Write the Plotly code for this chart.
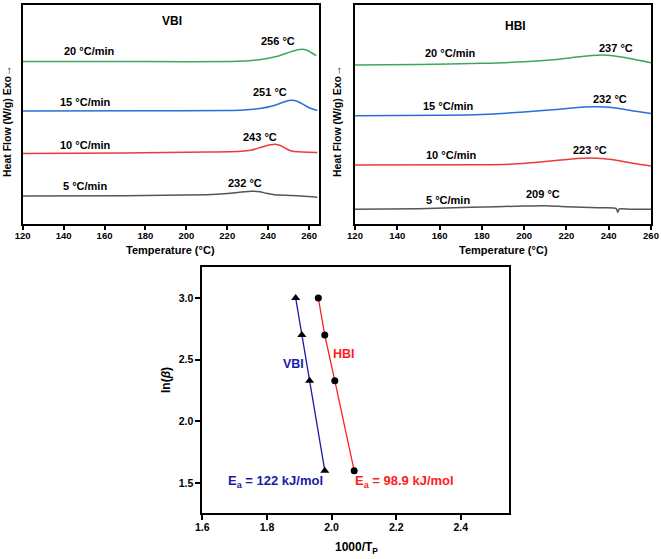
import plotly.graph_objects as go

# ---------------- DSC data: VBI ----------------
vbi_T_20 = [120, 160, 200, 225, 232, 238, 244, 250, 254, 256.5, 259, 261, 263.5]
vbi_hf_20 = [162.8, 162.8, 162.6, 163.0, 163.8, 165.3, 167.8, 171.8, 174.3, 175.0, 174.0, 171.8, 168.8]
vbi_T_15 = [120, 180, 220, 228, 236, 242, 247, 250, 252, 255, 258, 261, 264]
vbi_hf_15 = [113.3, 113.5, 113.8, 114.3, 115.8, 118.3, 121.8, 123.8, 124.0, 122.3, 118.8, 115.8, 113.8]
vbi_T_10 = [120, 170, 210, 225, 232, 237, 241, 243.5, 246, 249, 252, 257, 264]
vbi_hf_10 = [70.8, 71.3, 72.3, 72.8, 74.3, 77.3, 79.5, 80.1, 78.8, 75.3, 73.0, 72.3, 71.8]
vbi_T_5 = [120, 170, 210, 220, 227, 232, 236, 239, 243, 252, 264]
vbi_hf_5 = [28.3, 28.6, 29.6, 30.8, 32.3, 33.0, 32.6, 31.0, 29.6, 28.8, 27.1]

# ---------------- DSC data: HBI ----------------
hbi_T_20 = [120, 150, 180, 200, 215, 225, 232, 237, 242, 250, 260]
hbi_hf_20 = [159.3, 159.8, 161.0, 162.5, 164.8, 167.3, 168.8, 169.3, 168.5, 165.8, 161.6]
hbi_T_15 = [120, 160, 180, 200, 215, 225, 232, 238, 245, 252, 260]
hbi_hf_15 = [108.6, 109.0, 109.8, 112.3, 114.8, 116.8, 117.5, 117.3, 115.8, 113.3, 110.8]
hbi_T_10 = [120, 180, 195, 205, 215, 225, 231, 238, 245, 252, 260]
hbi_hf_10 = [59.3, 59.6, 60.3, 61.8, 63.8, 65.8, 66.3, 65.5, 63.6, 60.8, 58.3]
hbi_T_5 = [120, 150, 175, 200, 210, 220, 235, 243.5, 244.3, 245, 250, 260]
hbi_hf_5 = [15.0, 15.6, 17.0, 18.3, 18.6, 17.6, 16.6, 16.0, 12.0, 15.3, 15.1, 15.0]

rate_labels = ["20 °C/min", "15 °C/min", "10 °C/min", "5 °C/min"]
vbi_peak_labels = ["256 °C", "251 °C", "243 °C", "232 °C"]
hbi_peak_labels = ["237 °C", "232 °C", "223 °C", "209 °C"]

# ---------------- Kissinger data ----------------
vbi_invT = [1.889, 1.908, 1.932, 1.979]
vbi_lnb = [3.00, 2.70, 2.33, 1.60]
hbi_invT = [1.959, 1.979, 2.010, 2.070]
hbi_lnb = [3.00, 2.70, 2.33, 1.60]

temp_ticks = [120, 140, 160, 180, 200, 220, 240, 260]
kx_ticks = [1.6, 1.8, 2.0, 2.2, 2.4]
ky_ticks = [1.5, 2.0, 2.5, 3.0]

colors = ["#3aa85c", "#2a6fd8", "#ee3a3a", "#555555"]
FONT = "Liberation Sans"

fig = go.Figure()

vbi_sets = [(vbi_T_20, vbi_hf_20), (vbi_T_15, vbi_hf_15), (vbi_T_10, vbi_hf_10), (vbi_T_5, vbi_hf_5)]
hbi_sets = [(hbi_T_20, hbi_hf_20), (hbi_T_15, hbi_hf_15), (hbi_T_10, hbi_hf_10), (hbi_T_5, hbi_hf_5)]

for (t, h), c in zip(vbi_sets, colors):
    fig.add_trace(go.Scatter(x=t, y=h, mode="lines", line=dict(color=c, width=1.5, shape="spline", smoothing=0.6),
                             xaxis="x", yaxis="y", showlegend=False))
for (t, h), c in zip(hbi_sets, colors):
    fig.add_trace(go.Scatter(x=t, y=h, mode="lines", line=dict(color=c, width=1.5, shape="spline", smoothing=0.6),
                             xaxis="x2", yaxis="y2", showlegend=False))

fig.add_trace(go.Scatter(x=vbi_invT, y=vbi_lnb, mode="lines+markers",
                         line=dict(color="#1a1aa8", width=1.3),
                         marker=dict(symbol="triangle-up", size=8, color="black"),
                         xaxis="x3", yaxis="y3", showlegend=False))
fig.add_trace(go.Scatter(x=hbi_invT, y=hbi_lnb, mode="lines+markers",
                         line=dict(color="#ff2020", width=1.3),
                         marker=dict(symbol="circle", size=7, color="black"),
                         xaxis="x3", yaxis="y3", showlegend=False))

ann = []
def a(text, x, y, xref, yref, size=11, color="black", **kw):
    ann.append(dict(text=text, x=x, y=y, xref=xref, yref=yref, showarrow=False,
                    xanchor="center", yanchor="middle",
                    font=dict(family=FONT, size=size, color=color, weight="bold"), **kw))

# VBI panel labels
a("VBI", 193, 203.6, "x", "y", size=12)
vbi_rate_pos = [(152.8, 173.3), (150.9, 122.6), (150.9, 79.0), (150.5, 38.3)]
vbi_peak_pos = [(245, 183.6), (241, 132.6), (236.2, 87.6), (228.9, 41.3)]
for lab, (x, y) in zip(rate_labels, vbi_rate_pos):
    a(lab, x, y, "x", "y")
for lab, (x, y) in zip(vbi_peak_labels, vbi_peak_pos):
    a(lab, x, y, "x", "y")

# HBI panel labels
a("HBI", 196, 198.3, "x2", "y2", size=12)
hbi_rate_pos = [(165, 171.0), (164.2, 118.3), (165.8, 69.3), (164.2, 24.3)]
hbi_peak_pos = [(243.4, 176.6), (240.7, 125.6), (231.3, 74.3), (208.9, 30.0)]
for lab, (x, y) in zip(rate_labels, hbi_rate_pos):
    a(lab, x, y, "x2", "y2")
for lab, (x, y) in zip(hbi_peak_labels, hbi_peak_pos):
    a(lab, x, y, "x2", "y2")

# Kissinger panel labels
a("VBI", 1.882, 2.465, "x3", "y3", size=12.5, color="#1a1aa8")
a("HBI", 2.037, 2.546, "x3", "y3", size=12.5, color="#ff2020")
a("E<sub>a</sub> = 122 kJ/mol", 1.828, 1.51, "x3", "y3", size=13, color="#1a1aa8")
a("E<sub>a</sub> = 98.9 kJ/mol", 2.227, 1.51, "x3", "y3", size=13, color="#ff2020")

# axis titles (paper coordinates)
W, H = 661, 559
def px(x): return x / W
def py(y): return 1 - y / H
a("Heat Flow (W/g) Exo\u2192", px(7), py(122), "paper", "paper", size=10.5, textangle=-90)
a("Heat Flow (W/g) Exo\u2192", px(337), py(122), "paper", "paper", size=10.5, textangle=-90)
a("Temperature (°C)", px(171), py(250), "paper", "paper", size=11)
a("Temperature (°C)", px(503), py(250), "paper", "paper", size=11)
a("ln(<i>β</i>)", px(166), py(380), "paper", "paper", size=12, textangle=-90)
a("1000/T<sub>P</sub>", px(357), py(548), "paper", "paper", size=12)

def xaxis_style(size, ticklen, standoff):
    return dict(showline=True, linecolor="black", linewidth=1.8, mirror=True,
                showgrid=False, zeroline=False, ticks="outside", ticklen=ticklen,
                tickwidth=1.5, tickcolor="black", automargin=False,
                ticklabelstandoff=standoff,
                tickfont=dict(family=FONT, size=size, color="black", weight="bold"))
yhidden = dict(showline=True, linecolor="black", linewidth=1.8, mirror=True, automargin=False,
               showgrid=False, zeroline=False, showticklabels=False, ticks="")

fig.update_layout(
    template="none",
    width=W, height=H,
    margin=dict(l=0, r=0, t=0, b=0, autoexpand=False),
    paper_bgcolor="white", plot_bgcolor="white",
    xaxis=dict(domain=[px(22.7), px(319.3)], range=[120, 265], tickvals=temp_ticks, anchor="y", **xaxis_style(9.5, 4, -3)),
    yaxis=dict(domain=[py(224.3), py(5)], range=[0, 219.3], anchor="x", **yhidden),
    xaxis2=dict(domain=[px(355), px(651)], range=[120, 260], tickvals=temp_ticks, anchor="y2", **xaxis_style(9.5, 4, -3)),
    yaxis2=dict(domain=[py(224.3), py(5)], range=[0, 219.3], anchor="x2", **yhidden),
    xaxis3=dict(domain=[px(202.3), px(509.3)], range=[1.6, 2.55], tickvals=kx_ticks, tickformat=".1f",
                anchor="y3", **xaxis_style(10.5, 5, -2)),
    yaxis3=dict(domain=[py(513.3), py(266.7)], range=[1.254, 3.254], tickvals=ky_ticks, tickformat=".1f",
                anchor="x3", **xaxis_style(10.5, 5, 0)),
    annotations=ann,
)

fig.write_html("out.html", config={"displayModeBar": False},
               post_script="document.body.style.margin='0px';document.body.style.padding='0px';")
